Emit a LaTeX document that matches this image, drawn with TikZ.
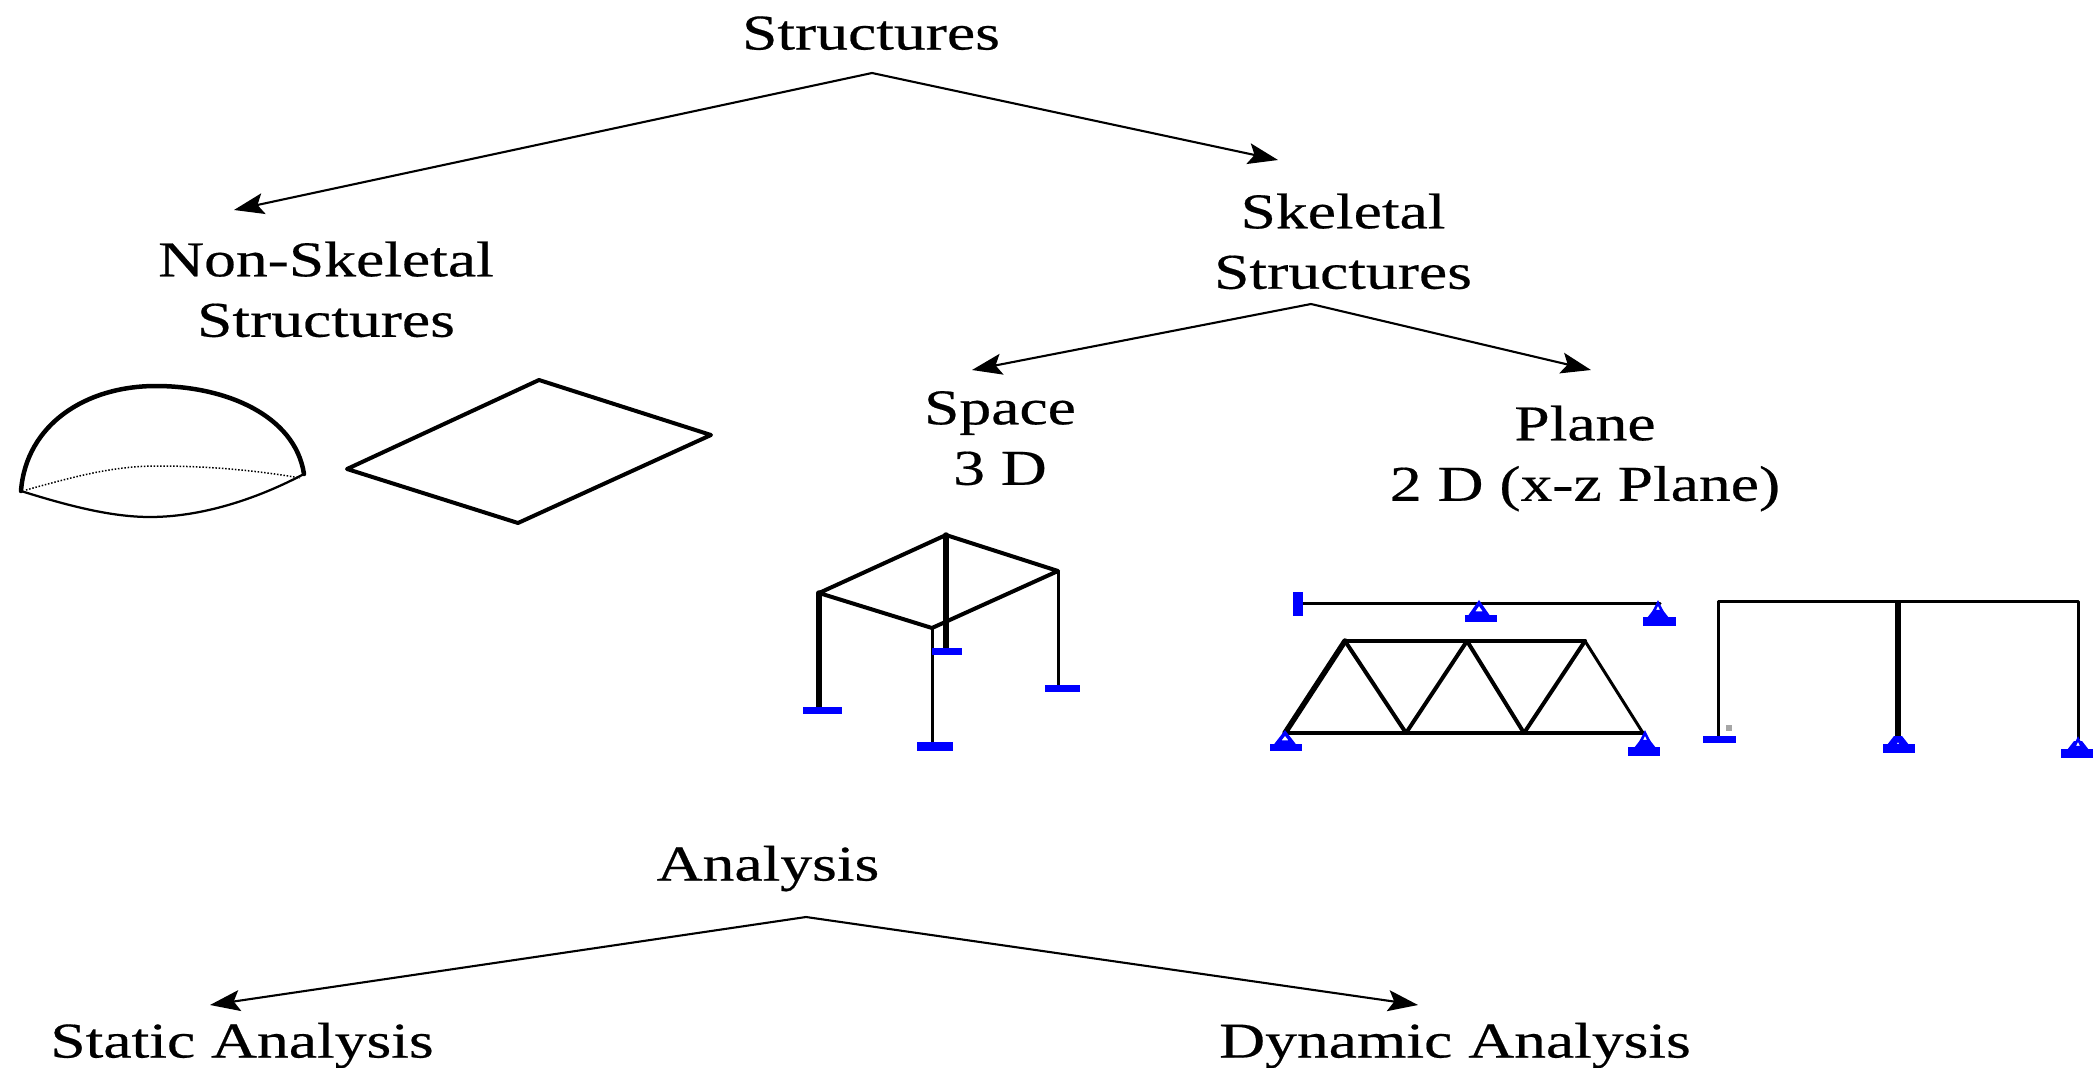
\documentclass[tikz,border=0pt]{standalone}
\usepackage{fontspec}
\setmainfont[FakeBold=0.35]{Liberation Serif}
\usetikzlibrary{arrows.meta}
\definecolor{supblue}{RGB}{0,0,255}
\newcommand{\lbl}[1]{\rule[-9pt]{0pt}{33.4pt}\smash{\scalebox{1.27}[1]{\fontsize{28.5}{32}\selectfont #1}}}
\tikzset{
  x=0.02cm,y=-0.02cm,
  txt/.style={inner sep=0pt,align=center},
  conn/.style={line width=0.042cm,-{Stealth[length=0.6cm,width=0.42cm,inset=0.12cm]}},
  thin member/.style={line width=0.06cm,line cap=round,line join=round},
  mid member/.style={line width=0.08cm,line cap=round,line join=round},
  thick member/.style={line width=0.11cm,line cap=round,line join=round},
  plate/.style={fill=supblue,draw=none},
  hinge/.style={draw=supblue,line width=0.07cm,fill=white},
}
\newcommand{\pinsup}[5]{% apex x, apex y, plate x0, plate x1, plate bottom y
  \draw[hinge] (#1,#2) -- (#1-7,#5-9) -- (#1+7,#5-9) -- cycle;
  \fill[plate] (#3,#5-7) rectangle (#4,#5);
}
\newcommand{\heavysup}[5]{% the same with a solid shoulder over the plate
  \fill[plate] (#1-11,#5-8) -- (#1-4,#5-17) -- (#1+4,#5-17) -- (#1+11,#5-8) -- cycle;
  \draw[hinge,line width=0.05cm] (#1,#2) -- (#1-4,#2+8) -- (#1+4,#2+8) -- cycle;
  \fill[plate] (#3,#5-9) rectangle (#4,#5);
}
\begin{document}
\begin{tikzpicture}
\useasboundingbox (0,0) rectangle (2093,1068);
\fill[white] (0,0) rectangle (2093,1068);
% text
\node[txt] (structures) at (871,36) {\lbl{Structures}};
\node[txt] (nonskel) at (326,293) {\lbl{Non-Skeletal}\\\lbl{Structures}};
\node[txt] (skel) at (1343,245) {\lbl{Skeletal}\\\lbl{Structures}};
\node[txt] (space) at (1000,441) {\lbl{Space}\\\lbl{3 D}};
\node[txt] (plane) at (1585,457) {\lbl{Plane}\\\lbl{2 D (x-z Plane)}};
\node[txt] (analysis) at (768,867) {\lbl{Analysis}};
\node[txt] (static) at (242,1044) {\lbl{Static Analysis}};
\node[txt] (dynamic) at (1455,1044) {\lbl{Dynamic  Analysis}};
% connector ends
\coordinate (apexa) at (872,73);
\coordinate (enda) at (234,210);
\coordinate (endb) at (1278,160);
\coordinate (apexb) at (1311,304);
\coordinate (endc) at (972,370);
\coordinate (endd) at (1591,370);
\coordinate (apexc) at (806,917);
\coordinate (ende) at (210,1005);
\coordinate (endf) at (1418,1005);
\draw[conn] (apexa) -- (enda);
\draw[conn] (apexa) -- (endb);
\draw[conn] (apexb) -- (endc);
\draw[conn] (apexb) -- (endd);
\draw[conn] (apexc) -- (ende);
\draw[conn] (apexc) -- (endf);
% dome
\draw[mid member,line width=0.09cm] (21,491) .. controls (26,425) and (85,386) .. (156,386) .. controls (225,386) and (295,415) .. (304,474);
\draw[line width=0.045cm] (21,491) .. controls (75,508) and (115,517) .. (150,517) .. controls (200,517) and (255,500) .. (304,474);
\draw[line width=0.03cm,densely dotted] (26,490) .. controls (80,475) and (115,466) .. (158,466) .. controls (205,466) and (255,470) .. (300,478);
% plate
\draw[mid member] (539,380) -- (711,435) -- (518,523) -- (347,469) -- cycle;
% space frame
\draw[thick member] (946,535) -- (946,652);
\draw[thick member] (819,593) -- (819,710);
\draw[thin member] (932,628) -- (932,745);
\draw[thin member] (1058,571) -- (1058,687);
\draw[mid member] (819,593) -- (946,535) -- (1058,571) -- (932,628) -- cycle;
\fill[plate] (932,648) rectangle (962,655);
\fill[plate] (803,707) rectangle (842,714);
\fill[plate] (1045,685) rectangle (1080,692);
\fill[plate] (917,742) rectangle (953,751);
% beam
\draw[thin member] (1302,603) -- (1660,603);
\fill[plate] (1293,592) rectangle (1303,616);
\pinsup{1479}{603}{1465}{1497}{622}
\heavysup{1658}{603}{1643}{1676}{626}
% truss
\draw[mid member] (1285,733) -- (1643,733);
\draw[mid member] (1345,641) -- (1585,641);
\draw[thick member] (1285,733) -- (1345,641);
\draw[mid member] (1345,641) -- (1406,733) -- (1467,641) -- (1524,733) -- (1585,641);
\draw[thin member] (1585,641) -- (1643,733);
\pinsup{1285}{733}{1270}{1302}{751}
\heavysup{1645}{733}{1628}{1660}{756}
% portal
\draw[thin member] (1718,737) -- (1718,601) -- (2078,601) -- (2078,739);
\draw[thick member,line cap=butt] (1898,601) -- (1898,739);
\fill[plate] (1703,736) rectangle (1736,743);
\heavysup{1898}{739}{1883}{1915}{753}
\heavysup{2078}{739}{2061}{2093}{758}
\fill[black!35] (1726,725) rectangle (1732,731);
\end{tikzpicture}
\end{document}
